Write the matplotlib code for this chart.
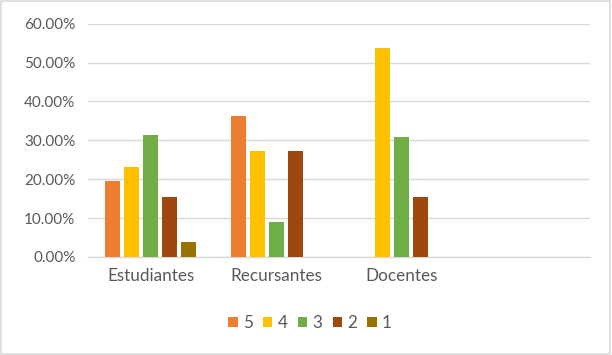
import numpy as np
from matplotlib import pyplot as plt
from matplotlib.patches import Rectangle

# datos
categorias = ['Estudiantes', 'Recursantes', 'Docentes', '']
series = ['5', '4', '3', '2', '1']
v5 = [0.196, 0.3636, 0.0, 0.0]
v4 = [0.231, 0.2727, 0.5385, 0.0]
v3 = [0.313, 0.0909, 0.3077, 0.0]
v2 = [0.154, 0.2727, 0.1538, 0.0]
v1 = [0.039, 0.0, 0.0, 0.0]
valores = [v5, v4, v3, v2, v1]
colores = ['#ED7D31', '#FFC000', '#70AD47', '#9E480E', '#997300']

plt.rcParams['font.family'] = ['Lato', 'DejaVu Sans']

fig = plt.figure(figsize=(6.12, 3.55), dpi=100)
fig.patches.append(Rectangle((0.002, 0.003), 0.995, 0.994, transform=fig.transFigure,
                             fill=False, edgecolor='#d9d9d9', linewidth=1.2))
ax = fig.add_axes([88 / 612, 1 - 257 / 355, 502 / 612, (257 - 23.7) / 355])

x = np.arange(len(categorias))
paso = 0.152
ancho = 0.12
for i, (vals, c, s) in enumerate(zip(valores, colores, series)):
    ax.bar(x + (i - 2) * paso, vals, width=ancho, color=c, label=s, zorder=3)

ax.set_xlim(-0.5, 3.5)
ax.set_ylim(0, 0.6)
ax.set_yticks(np.arange(0, 0.61, 0.1))
ax.set_yticklabels(['%.2f%%' % (t * 100) for t in np.arange(0, 0.61, 0.1)])
ax.set_xticks(x)
ax.set_xticklabels(categorias)
ax.yaxis.grid(True, color='#d9d9d9', linewidth=1.0, zorder=0)
for s in ['top', 'right', 'left']:
    ax.spines[s].set_visible(False)
ax.spines['bottom'].set_color('#d9d9d9')
ax.spines['bottom'].set_linewidth(1.0)
ax.tick_params(length=0, colors='#595959')
ax.tick_params(axis='y', pad=9, labelsize=11)
ax.tick_params(axis='x', pad=8, labelsize=12.3)

leg = fig.legend(loc='center', bbox_to_anchor=(310 / 612, 1 - 323 / 355), ncol=5,
                 frameon=False, fontsize=12.3, handlelength=0.55, handleheight=0.55,
                 handletextpad=0.3, columnspacing=0.6, labelcolor='#595959')

plt.savefig('out.png', dpi=100)
